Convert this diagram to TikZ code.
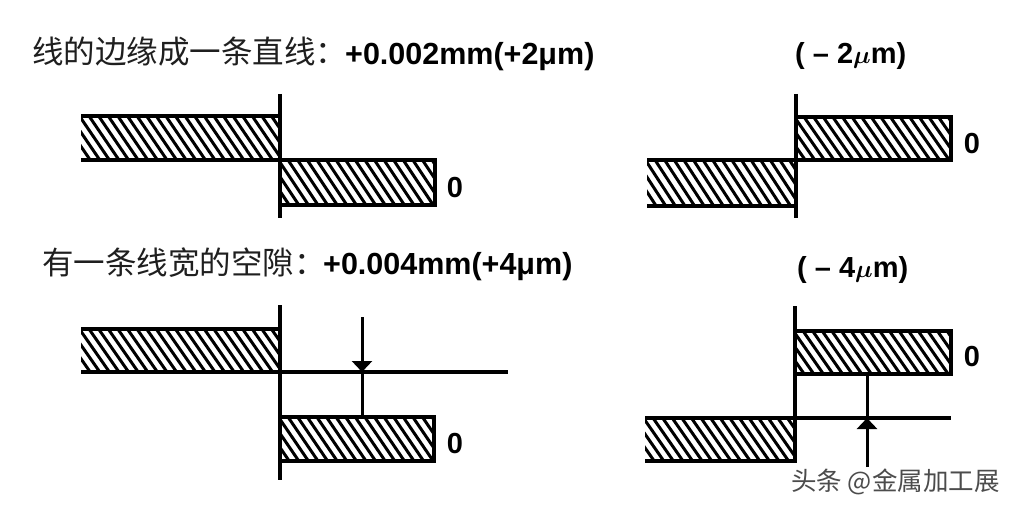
\documentclass[tikz,border=0pt]{standalone}
\usepackage{fontspec}
\usepackage{bm}
\setmainfont{Liberation Sans}
\newfontfamily\cjk{Noto Sans CJK SC}
\usetikzlibrary{arrows.meta}
% hatched bar: x1 y1 x2 y2 (y grows downward)
\newcommand{\hatchbar}[4]{%
  \begin{scope}
    \clip (#1,#2) rectangle (#3,#4);
    \foreach \k in {0,...,27} {\draw[hatch] ({#1-40+\k*9.6},#2) -- ++(30,{#4-#2});}
  \end{scope}}
\begin{document}
\begin{tikzpicture}[x=1pt,y=-1pt,
  edge/.style={line width=3.8pt},
  axisl/.style={line width=3.2pt},
  hatch/.style={line width=3.0pt},
  thinl/.style={line width=3.0pt},
  arr/.style={line width=3.0pt,-{Triangle[width=20pt,length=11pt]}},
  cjkt/.style={font=\cjk\fontsize{31.5}{36}\selectfont, inner sep=0pt, text=black!88},
  boldt/.style={font=\fontsize{30.5}{35}\selectfont\bfseries, inner sep=0pt},
  lbl/.style={font=\fontsize{29}{33}\selectfont\bfseries, inner sep=0pt},
  zero/.style={font=\fontsize{29}{32}\selectfont\bfseries, inner sep=0pt},
  wm/.style={font=\cjk\fontsize{25.5}{28}\selectfont, text=black!70, inner sep=0pt}]
\useasboundingbox[fill=white] (0,0) rectangle (1019,508);

% ---------- titles ----------
\node[cjkt, anchor=base west] (t1) at (32,64) {线的边缘成一条直线：};
\node[boldt, anchor=base west] (t1b) at (345,65) {+0.002mm(+2μm)};
\node[lbl, anchor=base west] (t2) at (795,64) {( – 2$\bm{\mu}$m)};
\node[cjkt, anchor=base west] (t3) at (42,274) {有一条线宽的空隙：};
\node[boldt, anchor=base west] (t3b) at (323,274) {+0.004mm(+4μm)};
\node[lbl, anchor=base west] (t4) at (797,277) {( – 4$\bm{\mu}$m)};

% ---------- panel top-left ----------
\hatchbar{81}{116}{280}{160}
\draw[edge] (81,116) -- (280,116);
\hatchbar{280}{160}{435}{205}
\draw[edge] (81,160) -- (435,160) -- (435,205) -- (280,205);
\draw[axisl] (280,94) -- (280,218);
\node[zero, anchor=base] (z1) at (455,197) {0};

% ---------- panel top-right ----------
\hatchbar{796}{117}{951}{160}
\draw[edge] (796,117) -- (951,117) -- (951,160) -- (647,160);
\hatchbar{647}{160}{796}{206}
\draw[edge] (647,206) -- (796,206);
\draw[axisl] (796,94) -- (796,218);
\node[zero, anchor=base] (z2) at (972,153) {0};

% ---------- panel bottom-left ----------
\hatchbar{81}{329}{280}{372}
\draw[edge] (81,329) -- (280,329);
\draw[edge] (81,372) -- (280,372);
\draw[axisl] (280,372) -- (508,372);
\hatchbar{280}{417}{434}{461}
\draw[edge] (280,417) -- (434,417) -- (434,461) -- (280,461);
\draw[axisl] (280,305) -- (280,480);
\node[zero, anchor=base] (z3) at (455,453) {0};
\coordinate (a1s) at (362,317);
\coordinate (a1t) at (362,372);
\coordinate (a1e) at (362,417);
\draw[arr] (a1s) -- (a1t);
\draw[thinl] (a1t) -- (a1e);

% ---------- panel bottom-right ----------
\hatchbar{795}{331}{951}{374}
\draw[edge] (795,331) -- (951,331) -- (951,374) -- (795,374);
\hatchbar{645}{418}{795}{461}
\draw[edge] (645,418) -- (795,418);
\draw[axisl] (795,418) -- (951,418);
\draw[edge] (645,461) -- (795,461);
\draw[axisl] (795,306) -- (795,463);
\node[zero, anchor=base] (z4) at (972,366) {0};
\coordinate (a2s) at (867,467);
\coordinate (a2t) at (867,418);
\coordinate (a2e) at (867,374);
\draw[thinl] (a2t) -- (a2e);
\draw[arr] (a2s) -- (a2t);

% ---------- watermark ----------
\node[wm, anchor=base west] (wm) at (791,490) {头条 @金属加工展};
\end{tikzpicture}
\end{document}
